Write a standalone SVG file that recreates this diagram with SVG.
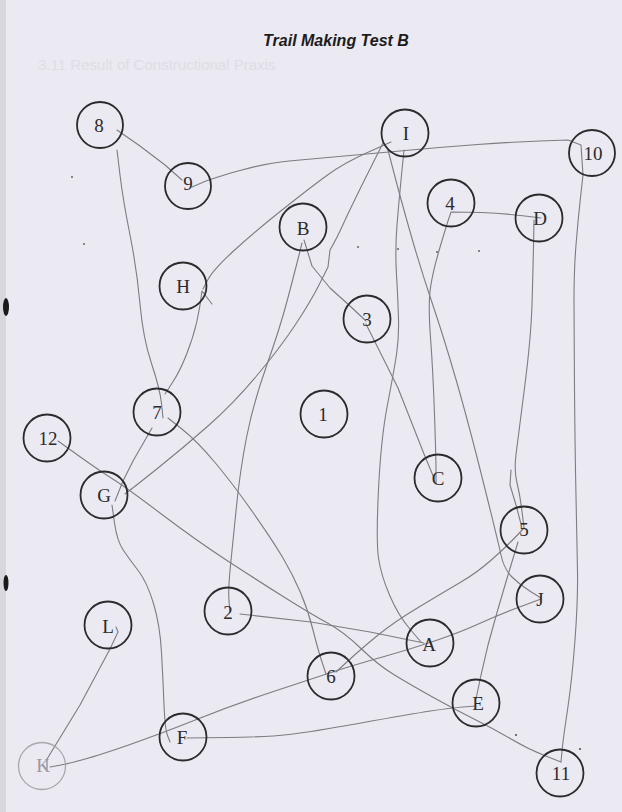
<svg xmlns="http://www.w3.org/2000/svg" width="622" height="812" viewBox="0 0 622 812">
<style>
.bg{fill:#ebe9f1}
.node circle{fill:none;stroke:#2b2b2b;stroke-width:1.8}
.node text{font-family:"Liberation Serif","Times New Roman",serif;font-size:19px;fill:#2b2b2b;text-anchor:middle}
.faint circle{stroke:#a9a7ad;stroke-width:1.3}
.faint text{fill:#9a989f}
.trail path{fill:none;stroke:#7d7c82;stroke-width:1.1;stroke-linecap:round;stroke-linejoin:round}
.title{font-family:"Liberation Sans",Arial,sans-serif;font-size:16px;font-weight:bold;font-style:italic;fill:#1c1c1c;text-anchor:middle}
.ghost{font-family:"Liberation Sans",Arial,sans-serif;font-size:15px;fill:#dfdde6}
.speck{fill:#555}
</style>
<rect class="bg" x="0" y="0" width="622" height="812"/>
<rect x="0" y="0" width="6" height="812" fill="#d9d7de"/>
<ellipse cx="6" cy="307" rx="3" ry="9" fill="#1a1a1a"/>
<ellipse cx="6" cy="583" rx="2.5" ry="8" fill="#1a1a1a"/>
<text class="ghost" x="38" y="70">3.11 Result of Constructional Praxis</text>
<text class="title" x="336" y="46">Trail Making Test B</text>

<g id="connectors" class="trail">
  <path d="M117,130 L140,146 L165,165 L182,180"/>
  <path d="M192,187 L202.5,182.5 Q213,178 240,170.5 Q267,163 289,161 Q311,159 344.5,156 Q378,153 411,150 Q444,147 477.5,144.5 Q511,142 539.5,141 L568,140 L581,145 L582,160 L583,175 L580.5,197.5 Q578,220 576,245 Q574,270 574,300 Q574,330 574.5,390 Q575,450 576,496 Q577,542 577.5,571 Q578,600 575,640 Q572,680 567.5,710 Q563,740 562,751 L561,762"/>
  <path d="M117,150 L120,175 Q123,200 130,235 Q137,270 140,304 Q143,338 151.5,363.5 Q160,389 161.5,403.5 L163,418"/>
  <path d="M165,394 L172.5,382.5 Q180,371 186.5,354.5 Q193,338 196.5,323 Q200,308 202,291 L212,304"/>
  <path d="M391,142 L367.5,152.5 Q344,163 327.5,175 Q311,187 282,210 Q253,233 233,251.5 Q213,270 208,279.5 L203,289"/>
  <path d="M383,143 L367,175 Q351,207 343.5,223.5 Q336,240 330,250 L328,267 L319.5,284 Q311,301 295.5,324.5 Q280,348 256.5,376 Q233,404 208,426 Q183,448 158,468 Q133,488 125,494"/>
  <path d="M152,428 L133,461 L123,481 L115,501"/>
  <path d="M112,505 L114.5,523 Q117,541 123.5,550.5 Q130,560 138.5,571 Q147,582 153.5,603.5 Q160,625 161.5,652.5 Q163,680 164,704.5 Q165,729 167.5,735.5 L170,742"/>
  <path d="M58,441 L79,456 Q100,471 113.5,479.5 Q127,488 162,514.5 Q197,541 228.5,561.5 Q260,582 285.5,598 Q311,614 327.5,623 Q344,632 361,648.5 Q378,665 394.5,675 Q411,685 432.5,697 Q454,709 474,719 Q494,729 511,739 Q528,749 544.5,755.5 L561,762"/>
  <path d="M168,418 L182.5,429.5 Q197,441 215,462.5 Q233,484 253,512.5 Q273,541 283,558 Q293,575 300.5,592.5 Q308,610 313,630 Q318,650 322,662 L326,674"/>
  <path d="M304,240 L312,266 L330,288 L350,306 L366,321"/>
  <path d="M302,243 L298.5,257 Q295,271 287.5,299.5 Q280,328 266.5,366 Q253,404 246.5,437.5 Q240,471 236.5,506 Q233,541 230.5,565.5 Q228,590 229,601 L230,612"/>
  <path d="M240,614 L311,622 L370,632 L424,643"/>
  <path d="M404,150 L401.5,175 Q399,200 397,225 Q395,250 396.5,275 Q398,300 398.5,319 Q399,338 396.5,354.5 Q394,371 387.5,404.5 Q381,438 378.5,489.5 Q376,541 378.5,558 Q381,575 389.5,595 Q398,615 409.5,628.5 L421,642"/>
  <path d="M388,150 L394.5,175 Q401,200 411,235 Q421,270 432.5,304 Q444,338 456,379.5 Q468,421 483,481 Q498,541 501,555 Q504,569 512,577 Q520,585 530.5,591.5 L541,598"/>
  <path d="M366,324 L398,388 L424,454 L434,478"/>
  <path d="M436,484 L436,471 Q436,458 434.5,414.5 Q433,371 430.5,337.5 Q428,304 430.5,287.5 Q433,271 439.5,249 Q446,227 448.5,219.5 L451,212 Q500,212 541,218"/>
  <path d="M534,220 L533.5,245.5 Q533,271 532,304.5 Q531,338 524.5,388 Q518,438 516,454.5 Q514,471 517,483 Q520,495 522,511.5 L524,528"/>
  <path d="M511,470 L510,485 L516,505 L521,524"/>
  <path d="M518,542 L508,575 L498,609 L488,645 L481,675 L476,699"/>
  <path d="M476,706 L463,707 Q450,708 430.5,711 Q411,714 361,723 Q311,732 289,734.5 Q267,737 227,737.5 L187,738"/>
  <path d="M336,672 L348.5,660.5 Q361,649 377.5,635.5 Q394,622 419,607 Q444,592 461,582 Q478,572 493,558.5 Q508,545 516,536.5 L524,528"/>
  <path d="M50,767 L58.5,765.5 Q67,764 83.5,759.5 Q100,755 130,744.5 Q160,734 196.5,719.5 Q233,705 272,692 Q311,679 332.5,672 Q354,665 382.5,657 Q411,649 436,640.5 Q461,632 479.5,623.5 Q498,615 519.5,607 L541,599"/>
  <path d="M116,627 L118,632 L110,649 L80,705 L47,759 L47,769"/>
</g>

<g id="node-8" class="node"><circle cx="100" cy="125" r="23"/><text x="99" y="132">8</text></g>
<g id="node-9" class="node"><circle cx="188" cy="186" r="23"/><text x="188" y="190">9</text></g>
<g id="node-I" class="node"><circle cx="405" cy="133" r="23.5"/><text x="406" y="140">I</text></g>
<g id="node-10" class="node"><circle cx="592" cy="153" r="23"/><text x="593" y="160">10</text></g>
<g id="node-4" class="node"><circle cx="451" cy="203" r="23.5"/><text x="450" y="210">4</text></g>
<g id="node-D" class="node"><circle cx="539" cy="218" r="23.5"/><text x="540" y="225">D</text></g>
<g id="node-B" class="node"><circle cx="303" cy="227" r="23.5"/><text x="303" y="235">B</text></g>
<g id="node-H" class="node"><circle cx="183" cy="286" r="23.5"/><text x="183" y="293">H</text></g>
<g id="node-3" class="node"><circle cx="367" cy="319" r="23.5"/><text x="367" y="326">3</text></g>
<g id="node-7" class="node"><circle cx="157" cy="412" r="23.5"/><text x="157" y="419">7</text></g>
<g id="node-1" class="node"><circle cx="324" cy="414" r="23.5"/><text x="323" y="421">1</text></g>
<g id="node-12" class="node"><circle cx="47" cy="438" r="23.5"/><text x="48" y="445">12</text></g>
<g id="node-C" class="node"><circle cx="438" cy="478" r="23.5"/><text x="438" y="485">C</text></g>
<g id="node-G" class="node"><circle cx="104" cy="495" r="23.5"/><text x="104" y="502">G</text></g>
<g id="node-5" class="node"><circle cx="524" cy="530" r="23.5"/><text x="524" y="536">5</text></g>
<g id="node-J" class="node"><circle cx="540" cy="599" r="23.5"/><text x="540" y="606">J</text></g>
<g id="node-2" class="node"><circle cx="228" cy="611" r="23.5"/><text x="228" y="619">2</text></g>
<g id="node-L" class="node"><circle cx="108" cy="625" r="23.5"/><text x="108" y="633">L</text></g>
<g id="node-A" class="node"><circle cx="430" cy="643" r="23.5"/><text x="429" y="651">A</text></g>
<g id="node-6" class="node"><circle cx="331" cy="676" r="23.5"/><text x="331" y="683">6</text></g>
<g id="node-E" class="node"><circle cx="476" cy="703" r="23.5"/><text x="478" y="710">E</text></g>
<g id="node-F" class="node"><circle cx="183" cy="737" r="23.5"/><text x="182" y="744">F</text></g>
<g id="node-K" class="node faint"><circle cx="42" cy="766" r="23.5"/><text x="43" y="772">K</text></g>
<g id="node-11" class="node"><circle cx="560" cy="773" r="23.5"/><text x="561" y="780">11</text></g>

<g id="specks">
  <circle class="speck" cx="72" cy="177" r="0.9"/>
  <circle class="speck" cx="84" cy="244" r="0.9"/>
  <circle class="speck" cx="358" cy="247" r="0.9"/>
  <circle class="speck" cx="398" cy="249" r="0.9"/>
  <circle class="speck" cx="437" cy="252" r="0.9"/>
  <circle class="speck" cx="479" cy="251" r="0.9"/>
  <circle class="speck" cx="516" cy="735" r="1.1"/>
  <circle class="speck" cx="580" cy="749" r="1.1"/>
</g>
</svg>
